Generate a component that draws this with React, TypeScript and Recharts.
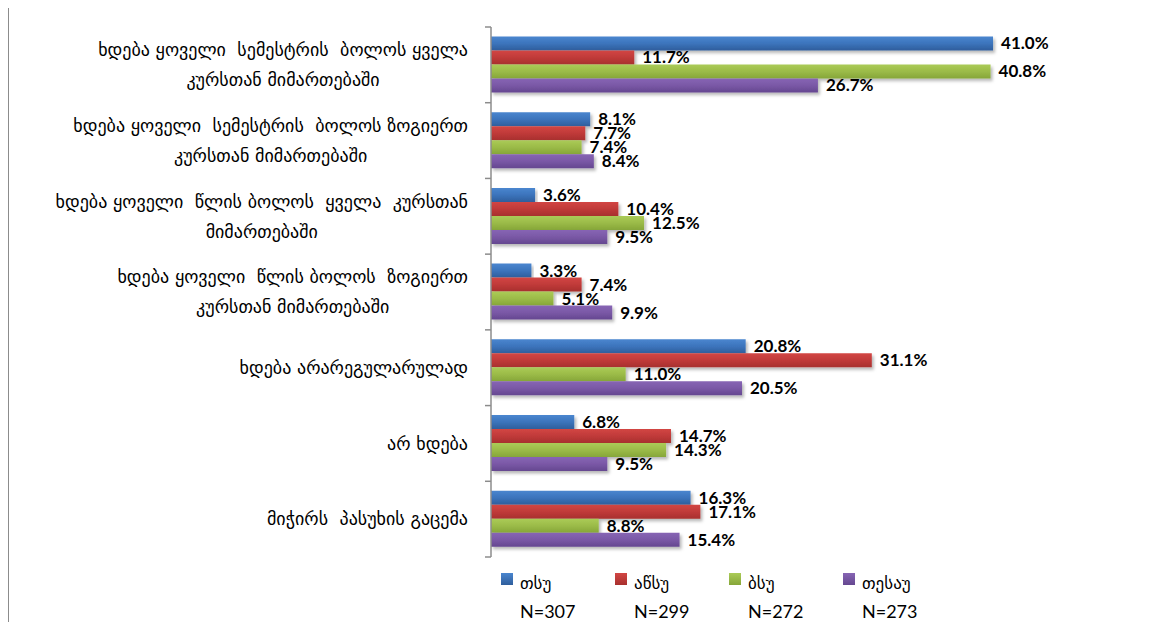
import React from "react";
import { BarChart, Bar, XAxis, YAxis, LabelList } from "recharts";

const categories = [
  "ხდება ყოველი  სემესტრის  ბოლოს ყველა\nკურსთან მიმართებაში",
  "ხდება ყოველი  სემესტრის  ბოლოს ზოგიერთ\nკურსთან მიმართებაში",
  "ხდება ყოველი  წლის ბოლოს  ყველა  კურსთან\nმიმართებაში",
  "ხდება ყოველი  წლის ბოლოს  ზოგიერთ\nკურსთან მიმართებაში",
  "ხდება არარეგულარულად",
  "არ ხდება",
  "მიჭირს  პასუხის გაცემა",
];

const tsu = [41.0, 8.1, 3.6, 3.3, 20.8, 6.8, 16.3];
const atsu = [11.7, 7.7, 10.4, 7.4, 31.1, 14.7, 17.1];
const bsu = [40.8, 7.4, 12.5, 5.1, 11.0, 14.3, 8.8];
const tesau = [26.7, 8.4, 9.5, 9.9, 20.5, 9.5, 15.4];

const seriesNames = ["თსუ", "აწსუ", "ბსუ", "თესაუ"];
const seriesN = ["N=307", "N=299", "N=272", "N=273"];
const seriesKeys = ["tsu", "atsu", "bsu", "tesau"];
const seriesColors = [
  ["#4A86CF", "#3C74BC", "#2F5E9C"],
  ["#D24644", "#C03A39", "#A8302E"],
  ["#ABCB57", "#9BBB48", "#86A639"],
  ["#8765B4", "#7A58A6", "#654790"],
];

const data = categories.map((name, i) => ({
  name,
  tsu: tsu[i],
  atsu: atsu[i],
  bsu: bsu[i],
  tesau: tesau[i],
}));

const CHART_W = 1144;
const CHART_H = 614;
const MARGIN = { top: 19, right: 110, bottom: 65, left: 0 };
const Y_W = 483;
const TICK_MARGIN = 23;
const CAT_FONT = "DejaVu Sans";
const CAT_SIZE = 18;
const LINE_GAP = 30;

let ctx: CanvasRenderingContext2D | null = null;
function measure(text: string, font: string): number {
  if (!ctx) {
    const c = document.createElement("canvas");
    ctx = c.getContext("2d");
  }
  if (!ctx) return text.length * 10;
  ctx.font = font;
  return ctx.measureText(text).width;
}

function CatTick(props: any) {
  const { x, y, payload, index, visibleTicksCount } = props;
  const lines: string[] = String(payload.value).split("\n");
  const font = `${CAT_SIZE}px '${CAT_FONT}'`;
  const maxW = Math.max(...lines.map((l) => measure(l, font)));
  const cx = x - maxW / 2;
  const n = lines.length;
  const half =
    payload.offset ??
    (CHART_H - MARGIN.top - MARGIN.bottom) / categories.length / 2;
  const axisX = x + TICK_MARGIN;
  const isLast = index === (visibleTicksCount ?? categories.length) - 1;
  return (
    <g>
      {lines.map((l, i) => (
        <text
          key={i}
          x={cx}
          y={y + (i - (n - 1) / 2) * LINE_GAP}
          dy="0.35em"
          textAnchor="middle"
          fill="#000"
          fontFamily={CAT_FONT}
          fontSize={CAT_SIZE}
          style={{ whiteSpace: "pre" }}
        >
          {l}
        </text>
      ))}
      <line x1={axisX - 6} x2={axisX} y1={y - half} y2={y - half} stroke="#8c8c8c" strokeWidth={1.5} />
      {isLast && (
        <line x1={axisX - 6} x2={axisX} y1={y + half} y2={y + half} stroke="#8c8c8c" strokeWidth={1.5} />
      )}
    </g>
  );
}

const fmt = (v: any) => `${Number(v).toFixed(1)}%`;

export default function App() {
  return (
    <div style={{ position: "relative", width: CHART_W, height: CHART_H }}>
      <style>{"html,body{overflow:hidden}"}</style>
      <div
        style={{
          position: "absolute",
          left: -1,
          top: -3,
          width: 2,
          height: 700,
          background: "#8c8c8c",
        }}
      />
      <div
        style={{
          position: "absolute",
          left: -1,
          top: -3,
          width: 1200,
          height: 2,
          background: "#8c8c8c",
        }}
      />
      <BarChart
        width={CHART_W}
        height={CHART_H}
        data={data}
        layout="vertical"
        margin={MARGIN}
        barCategoryGap="12.5%"
        barGap={0}
      >
        <defs>
          {seriesKeys.map((k, i) => (
            <linearGradient key={k} id={`grad-${k}`} x1="0" y1="0" x2="0" y2="1">
              <stop offset="0%" stopColor={seriesColors[i][0]} />
              <stop offset="50%" stopColor={seriesColors[i][1]} />
              <stop offset="100%" stopColor={seriesColors[i][2]} />
            </linearGradient>
          ))}
          <filter id="barShadow" x="-5%" y="-20%" width="110%" height="160%">
            <feDropShadow dx="2" dy="2.5" stdDeviation="1.5" floodColor="#000" floodOpacity="0.28" />
          </filter>
        </defs>
        <XAxis type="number" domain={[0, 45]} hide />
        <YAxis
          type="category"
          dataKey="name"
          width={Y_W}
          axisLine={{ stroke: "#8c8c8c", strokeWidth: 1.5 }}
          tickLine={false}
          tickSize={0}
          tickMargin={TICK_MARGIN}
          interval={0}
          tick={(p: any) => <CatTick {...p} />}
        />
        {seriesKeys.map((k, i) => (
          <Bar
            key={k}
            dataKey={k}
            name={seriesNames[i]}
            fill={`url(#grad-${k})`}
            filter="url(#barShadow)"
            isAnimationActive={false}
          >
            <LabelList
              dataKey={k}
              position="right"
              offset={8}
              formatter={fmt}
              fill="#000"
              fontFamily="Lato"
              fontWeight={700}
              fontSize={17}
            />
          </Bar>
        ))}
      </BarChart>
      <div
        style={{
          position: "absolute",
          left: 493,
          top: 565,
          display: "flex",
        }}
      >
        {seriesNames.map((nm, i) => (
          <div key={nm} style={{ position: "relative", width: 114, height: 48 }}>
            <div
              style={{
                position: "absolute",
                left: 0,
                top: 0,
                width: 12,
                height: 12,
                background: `linear-gradient(${seriesColors[i][0]}, ${seriesColors[i][2]})`,
              }}
            />
            <div
              style={{
                position: "absolute",
                left: 19,
                top: 0,
                lineHeight: "20px",
                fontFamily: CAT_FONT,
                fontSize: 17,
                color: "#000",
                whiteSpace: "nowrap",
              }}
            >
              {nm}
            </div>
            <div
              style={{
                position: "absolute",
                left: 19,
                top: 28,
                lineHeight: "20px",
                fontFamily: "Lato",
                fontSize: 18,
                color: "#000",
                whiteSpace: "nowrap",
              }}
            >
              {seriesN[i]}
            </div>
          </div>
        ))}
      </div>
    </div>
  );
}
